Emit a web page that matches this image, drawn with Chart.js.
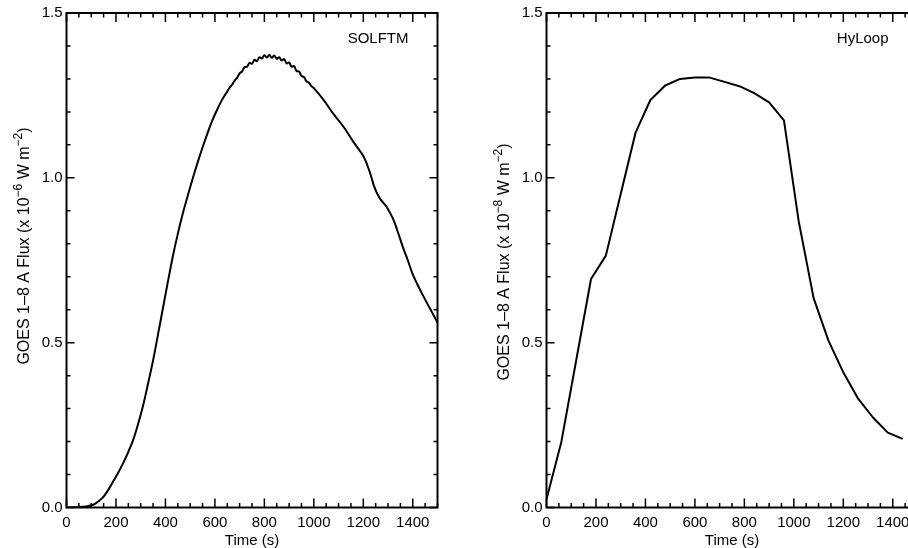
<!DOCTYPE html>
<html>
<head>
<meta charset="utf-8">
<script src="https://cdn.jsdelivr.net/npm/chart.js@4/dist/chart.umd.min.js"></script>
<style>
  html, body { margin: 0; padding: 0; background: #fff; overflow: hidden; width: 908px; height: 548px; }
  canvas { position: absolute; top: 0; }
  #left { left: 0; }
  #right { left: 480px; }
</style>
</head>
<body>
<canvas id="left" width="460" height="548"></canvas>
<canvas id="right" width="460" height="548"></canvas>
<script>
// SOLFTM run (x 10^-6 W m^-2)
const solTime = [0, 40, 80, 110, 130, 150, 170, 190, 210, 230, 250, 270, 290, 310, 330, 350, 370, 390, 410, 430,
  450, 470, 490, 510, 530, 550, 570, 590, 610, 630,
  650, 660, 670, 680, 690, 700, 710, 720, 730, 740, 750, 760, 770, 780, 790, 800, 810, 820, 830, 840,
  850, 860, 870, 880, 890, 900, 910, 920, 930, 940, 950, 960, 970, 980, 990, 1000,
  1040, 1080, 1120, 1160, 1200, 1225, 1245, 1265, 1295, 1320, 1340, 1360, 1380, 1400, 1420, 1440, 1470, 1500];
const solFlux = [0, 0.001, 0.003, 0.009, 0.019, 0.033, 0.055, 0.081, 0.107, 0.136, 0.169, 0.206, 0.255, 0.310, 0.377, 0.446, 0.525, 0.605, 0.685, 0.762,
  0.830, 0.891, 0.945, 0.997, 1.046, 1.092, 1.135, 1.175, 1.208, 1.238,
  1.262, 1.274, 1.283, 1.295, 1.304, 1.317, 1.323, 1.336, 1.337, 1.349, 1.346, 1.358, 1.354, 1.366, 1.362, 1.372, 1.365, 1.373, 1.364, 1.371,
  1.361, 1.366, 1.356, 1.360, 1.347, 1.350, 1.337, 1.339, 1.324, 1.323, 1.309, 1.306, 1.293, 1.289, 1.278, 1.272,
  1.236, 1.193, 1.155, 1.109, 1.066, 1.020, 0.972, 0.940, 0.911, 0.876, 0.835, 0.790, 0.750, 0.707, 0.675, 0.645, 0.603, 0.561];

// HyLoop run (x 10^-8 W m^-2)
const hyTime = [0, 60, 120, 180, 240, 300, 360, 420, 480, 540, 600, 660, 720, 780, 840, 900, 960,
  1020, 1080, 1140, 1200, 1260, 1320, 1380, 1440];
const hyFlux = [0.025, 0.199, 0.446, 0.693, 0.764, 0.951, 1.137, 1.236, 1.280, 1.300, 1.304, 1.304, 1.291, 1.278, 1.257, 1.229, 1.174,
  0.867, 0.635, 0.506, 0.410, 0.330, 0.273, 0.227, 0.208];

const xRange = [0, 1500];
const yRange = [0, 1.5];
const xMajorStep = 200, xMinorStep = 50;
const yMajorStep = 0.5, yMinorStep = 0.1;

const FONT = '"Liberation Sans", Arial, Helvetica, sans-serif';

const framePlugin = {
  id: 'frame',
  afterDatasetsDraw(chart, args, opts) {
    const { ctx, chartArea: a, scales: { x, y } } = chart;
    ctx.save();
    ctx.strokeStyle = '#000';
    ctx.lineCap = 'butt';

    // x ticks, bottom and top, pointing in
    ctx.lineWidth = 1.5;
    ctx.beginPath();
    for (let i = 0; xRange[0] + i * xMinorStep <= xRange[1]; i++) {
      const v = xRange[0] + i * xMinorStep;
      const px = x.getPixelForValue(v);
      const len = (v % xMajorStep === 0) ? 9 : 4.5;
      ctx.moveTo(px, a.bottom); ctx.lineTo(px, a.bottom - len);
      ctx.moveTo(px, a.top); ctx.lineTo(px, a.top + len);
    }
    // y ticks, left and right
    for (let i = 0; i <= Math.round((yRange[1] - yRange[0]) / yMinorStep); i++) {
      const py = y.getPixelForValue(yRange[0] + i * yMinorStep);
      const len = (i % Math.round(yMajorStep / yMinorStep) === 0) ? 8 : 4;
      ctx.moveTo(a.left, py); ctx.lineTo(a.left + len, py);
      ctx.moveTo(a.right, py); ctx.lineTo(a.right - len, py);
    }
    ctx.stroke();

    ctx.lineWidth = 2;
    ctx.strokeRect(a.left, a.top, a.right - a.left, a.bottom - a.top);

    // run name
    ctx.fillStyle = '#000';
    ctx.font = '15px ' + FONT;
    ctx.textAlign = 'right';
    ctx.textBaseline = 'middle';
    ctx.fillText(opts.label, a.right - 29, a.top + 26);

    // y title with superscripts
    const parts = [
      ['GOES 1\u20138 A Flux (x 10', false],
      ['\u2212' + opts.exp, true],
      [' W m', false],
      ['\u22122', true],
      [')', false]
    ];
    const mainFont = '16px ' + FONT, supFont = '12px ' + FONT;
    let total = 0;
    const widths = parts.map(([t, sup]) => {
      ctx.font = sup ? supFont : mainFont;
      const w = ctx.measureText(t).width;
      total += w;
      return w;
    });
    ctx.translate(a.left - 43.5, opts.titleY);
    ctx.rotate(-Math.PI / 2);
    ctx.textAlign = 'left';
    ctx.textBaseline = 'alphabetic';
    let pos = -total / 2;
    parts.forEach(([t, sup], i) => {
      ctx.font = sup ? supFont : mainFont;
      ctx.fillText(t, pos, sup ? -1 : 6);
      pos += widths[i];
    });
    ctx.restore();
  }
};

function makeChart(id, times, flux, label, exp, titleY, tension) {
  return new Chart(document.getElementById(id), {
    type: 'line',
    data: {
      datasets: [{
        data: times.map((t, i) => ({ x: t, y: flux[i] })),
        borderColor: '#000',
        borderWidth: 2,
        pointRadius: 0,
        fill: false,
        tension: tension,
        borderJoinStyle: 'round'
      }]
    },
    options: {
      responsive: false,
      animation: false,
      layout: { padding: { top: 12, right: 22.5, left: 0, bottom: 0 } },
      plugins: {
        legend: { display: false },
        tooltip: { enabled: false },
        frame: { label, exp, titleY }
      },
      scales: {
        x: {
          type: 'linear',
          min: xRange[0],
          max: xRange[1],
          afterFit(s) { s.height = 40.5; },
          grid: { display: false, drawTicks: false },
          border: { display: false },
          ticks: {
            stepSize: xMajorStep,
            includeBounds: false,
            autoSkip: false,
            maxRotation: 0,
            padding: 6,
            color: '#000',
            font: { family: FONT, size: 15 },
            callback: v => String(v)
          },
          title: {
            display: true,
            text: 'Time (s)',
            color: '#000',
            font: { family: FONT, size: 15, lineHeight: 1 },
            padding: { top: 0, bottom: 0 }
          }
        },
        y: {
          type: 'linear',
          min: yRange[0],
          max: yRange[1],
          afterFit(s) { s.width = 66.5; },
          grid: { display: false, drawTicks: false },
          border: { display: false },
          ticks: {
            stepSize: yMajorStep,
            padding: 4,
            color: '#000',
            font: { family: FONT, size: 15 },
            callback: v => v.toFixed(1)
          }
        }
      }
    },
    plugins: [framePlugin]
  });
}

makeChart('left', solTime, solFlux, 'SOLFTM', '6', 246, 0.4);
makeChart('right', hyTime, hyFlux, 'HyLoop', '8', 262, 0);
</script>
</body>
</html>
